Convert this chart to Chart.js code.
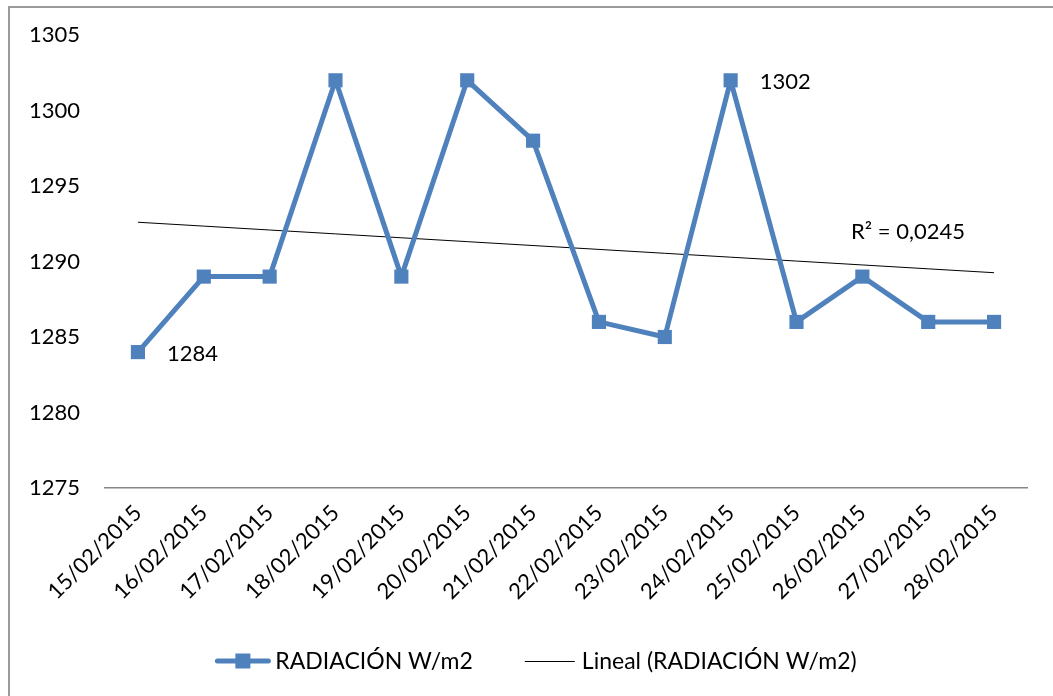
<!DOCTYPE html>
<html>
<head>
<meta charset="utf-8">
<script src="https://cdn.jsdelivr.net/npm/chart.js@4/dist/chart.umd.min.js"></script>
<style>
  html, body { margin: 0; padding: 0; background: #fff; overflow: hidden; }
  #wrap { position: relative; width: 1053px; height: 696px; }
</style>
</head>
<body>
<div id="wrap"><canvas id="chart" width="1053" height="696"></canvas></div>
<script>
// ---------------------------------------------------------------------------
// Data
// ---------------------------------------------------------------------------
const fechas = [
  '15/02/2015', '16/02/2015', '17/02/2015', '18/02/2015', '19/02/2015',
  '20/02/2015', '21/02/2015', '22/02/2015', '23/02/2015', '24/02/2015',
  '25/02/2015', '26/02/2015', '27/02/2015', '28/02/2015'
];
const radiacion = [1284, 1289, 1289, 1302, 1289, 1302, 1298, 1286, 1285, 1302, 1286, 1289, 1286, 1286];
const yTicks = [1275, 1280, 1285, 1290, 1295, 1300, 1305];
const etiquetasPuntos = [0, 9];           // indices that carry a value label
const r2Texto = 'R² = 0,0245';
const serieNombre = 'RADIACIÓN W/m2';
const tendenciaNombre = 'Lineal (RADIACIÓN W/m2)';

const AZUL = '#4F81BD';
const FONT = 'Lato, Calibri, "Open Sans", sans-serif';

// Least-squares trendline over the series (what the spreadsheet trendline shows)
function tendenciaLineal(values) {
  const n = values.length;
  const mx = (n - 1) / 2;
  const my = values.reduce((a, b) => a + b, 0) / n;
  let sxy = 0, sxx = 0;
  values.forEach((v, i) => { sxy += (i - mx) * (v - my); sxx += (i - mx) * (i - mx); });
  const m = sxy / sxx;
  return values.map((_, i) => my + m * (i - mx));
}
const tendencia = tendenciaLineal(radiacion);

// ---------------------------------------------------------------------------
// Plugins
// ---------------------------------------------------------------------------
const marcoPlugin = {
  id: 'marco',
  beforeDraw(chart) {
    const { ctx } = chart;
    ctx.save();
    ctx.fillStyle = '#fff';
    ctx.fillRect(0, 0, chart.width, chart.height);
    ctx.strokeStyle = '#9a9a9a';
    ctx.lineWidth = 2;
    ctx.beginPath();
    ctx.moveTo(9, chart.height + 5);
    ctx.lineTo(9, 7);
    ctx.lineTo(chart.width + 5, 7);
    ctx.stroke();
    ctx.restore();
  }
};

const etiquetasPlugin = {
  id: 'etiquetas',
  afterDatasetsDraw(chart) {
    const { ctx, scales } = chart;
    ctx.save();
    ctx.fillStyle = '#000';
    ctx.font = '22px ' + FONT;
    ctx.textAlign = 'left';
    ctx.textBaseline = 'middle';
    etiquetasPuntos.forEach(i => {
      const x = scales.x.getPixelForValue(i);
      const y = scales.y.getPixelForValue(radiacion[i]);
      ctx.fillText(String(radiacion[i]), x + 29, y + 2);
    });
    // R² text above the trendline, near its right end
    const xi = 11;
    const xr = chart.chartArea.right - 176;
    const yr = scales.y.getPixelForValue(tendencia[xi]) - 33;
    ctx.fillText(r2Texto, xr, yr);
    ctx.restore();
  }
};

const leyendaPlugin = {
  id: 'leyenda',
  afterDraw(chart) {
    const { ctx } = chart;
    ctx.save();
    ctx.font = '23px ' + FONT;
    ctx.textBaseline = 'middle';
    ctx.textAlign = 'left';
    const y = 661;
    const len1 = 55, len2 = 50, gap1 = 5, gap2 = 7, sep = 52;
    const w1 = ctx.measureText(serieNombre).width;
    const w2 = ctx.measureText(tendenciaNombre).width;
    const total = len1 + gap1 + w1 + sep + len2 + gap2 + w2;
    let x = 536 - total / 2;

    ctx.strokeStyle = AZUL;
    ctx.lineWidth = 5;
    ctx.lineCap = 'round';
    ctx.beginPath();
    ctx.moveTo(x + 2, y);
    ctx.lineTo(x + len1 - 2, y);
    ctx.stroke();
    ctx.fillStyle = AZUL;
    ctx.fillRect(x + len1 / 2 - 7.5, y - 7.5, 15, 15);
    x += len1 + gap1;
    ctx.fillStyle = '#000';
    ctx.fillText(serieNombre, x, y + 1);
    x += w1 + sep;

    ctx.strokeStyle = '#000';
    ctx.lineWidth = 1;
    ctx.lineCap = 'butt';
    ctx.beginPath();
    ctx.moveTo(x, y + 0.5);
    ctx.lineTo(x + len2, y + 0.5);
    ctx.stroke();
    x += len2 + gap2;
    ctx.fillText(tendenciaNombre, x, y + 1);
    ctx.restore();
  }
};

// ---------------------------------------------------------------------------
// Chart
// ---------------------------------------------------------------------------
new Chart(document.getElementById('chart'), {
  type: 'line',
  data: {
    labels: fechas,
    datasets: [
      {
        label: serieNombre,
        data: radiacion,
        borderColor: AZUL,
        backgroundColor: AZUL,
        borderWidth: 5,
        borderJoinStyle: 'round',
        pointStyle: 'rect',
        pointRadius: 10,
        pointBorderWidth: 0,
        pointBackgroundColor: AZUL,
        tension: 0,
        order: 1
      },
      {
        label: tendenciaNombre,
        data: tendencia,
        borderColor: '#000',
        borderWidth: 1,
        pointRadius: 0,
        tension: 0,
        order: 2
      }
    ]
  },
  options: {
    responsive: false,
    animation: false,
    layout: { padding: { left: 27, top: 35, right: 26, bottom: 80 } },
    plugins: {
      legend: { display: false },
      tooltip: { enabled: false }
    },
    scales: {
      x: {
        offset: true,
        grid: { display: false, drawTicks: false },
        border: { display: true, color: '#868686', width: 1.5 },
        ticks: {
          autoSkip: false,
          minRotation: 45,
          maxRotation: 45,
          padding: 12,
          color: '#000',
          font: { family: FONT, size: 22 }
        },
        afterFit(scale) {
          scale.height = 128;
          scale.paddingLeft = 0;
          scale.paddingRight = 0;
        }
      },
      y: {
        min: 1275,
        max: 1305,
        grid: { display: false, drawTicks: false },
        border: { display: false },
        afterBuildTicks(scale) { scale.ticks = yTicks.map(v => ({ value: v })); },
        ticks: {
          padding: 25,
          color: '#000',
          font: { family: FONT, size: 22 },
          callback: (value) => String(value)
        },
        afterFit(scale) {
          scale.width = 78;
          scale.paddingTop = 0;
          scale.paddingBottom = 0;
        }
      }
    }
  },
  plugins: [marcoPlugin, etiquetasPlugin, leyendaPlugin]
});
</script>
</body>
</html>
